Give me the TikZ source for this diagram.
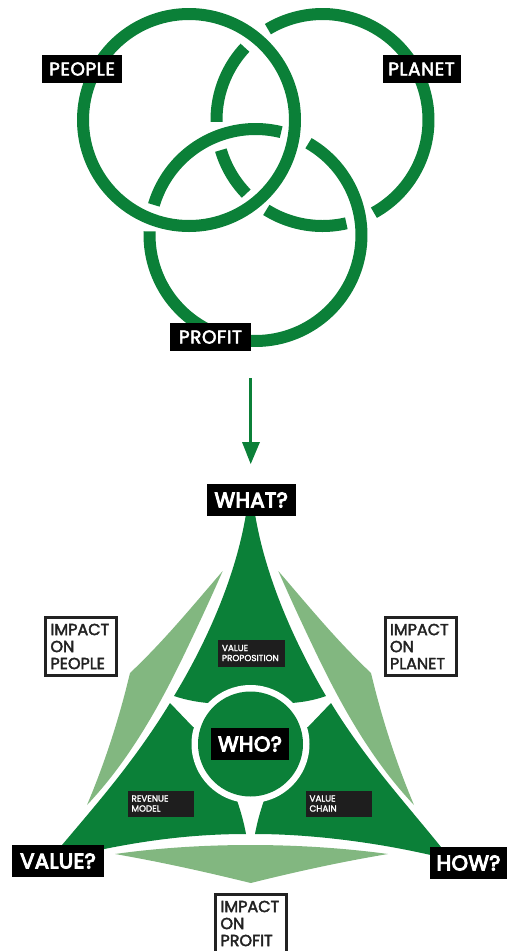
\documentclass[tikz,border=0pt]{standalone}
\usepackage{fontspec}
\setmainfont{Poppins}
\newfontface\tinyfont{Poppins}[FakeBold=2]
\newfontface\medfont{Poppins}[FakeBold=2.6]
\newfontface\spacedfont{Poppins}[FakeBold=3,LetterSpace=3]
\newfontface\heavyfont{Poppins}[FakeBold=5,LetterSpace=2]
\definecolor{brand}{HTML}{0B8038}
\definecolor{lightbrand}{HTML}{82B780}
\definecolor{softblack}{HTML}{1E1E1E}
\definecolor{framegrey}{HTML}{222222}
\newcommand{\ringarc}[4]{\draw[ring,domain=#3:#4,samples=90,variable=\t] plot ({#1+106*cos(\t)},{#2+106*sin(\t)});}
\tikzset{
  ring/.style={draw=brand,line width=12pt,line cap=butt,line join=round},
  pill/.style={fill=black,text=white,inner sep=0pt,font=\fontsize{18.5}{18.5}\selectfont\spacedfont,anchor=center},
  bigpill/.style={fill=black,text=white,inner sep=0pt,font=\fontsize{21}{21}\selectfont\heavyfont,anchor=center},
  tinybox/.style={fill=softblack,text=white,inner sep=0pt,minimum width=66.5pt,minimum height=26.5pt,text width=59pt,align=left,font=\fontsize{8.8}{10}\selectfont\tinyfont,anchor=center},
  impact/.style={draw=framegrey,line width=3pt,fill=white,text=framegrey,inner sep=0pt,minimum width=71pt,minimum height=58.5pt,text width=61pt,align=left,font=\fontsize{16}{17}\selectfont\medfont,anchor=center},
  solidg/.style={fill=brand,draw=none},
  softg/.style={fill=lightbrand,draw=none},
}
\begin{document}
\begin{tikzpicture}[x=1pt,y=-1pt]
\useasboundingbox (0,0) rectangle (510,951);
% rings
\draw[ring] (189,120) circle[radius=106];
\ringarc{322.5}{120}{-121}{61}
\ringarc{322.5}{120}{179}{223}
\ringarc{322.5}{120}{136}{163.5}
\ringarc{322.5}{120}{77}{122}
\ringarc{255.5}{235}{-60}{182}
\ringarc{255.5}{235}{196.5}{284}
\node[pill,minimum width=80pt,minimum height=28pt] (people) at (82,69) {PEOPLE};
\node[pill,minimum width=78pt,minimum height=28pt] (planet) at (421.5,69) {PLANET};
\node[pill,minimum width=81pt,minimum height=28pt] (profit) at (210.5,337) {PROFIT};
% arrow
\coordinate (arrowstart) at (250.7,378);
\coordinate (arrowneck) at (250.7,444);
\coordinate (arrowtip) at (250.7,464);
\draw[brand,line width=2.6pt] (arrowstart) -- (arrowneck);
\fill[brand] (arrowtip) -- (242,442) -- (260,442) -- cycle;
% soft petals
\fill[softg] (222.7,571) .. controls (195,603) and (165,640) .. (130,673)
  .. controls (120,715) and (106,760) .. (87,805)
  .. controls (125,765) and (155,715) .. (183,657)
  .. controls (196,630) and (210,600) .. cycle;
\fill[softg] (278.3,571) .. controls (306,603) and (336,640) .. (371,673)
  .. controls (381,715) and (395,760) .. (414,805)
  .. controls (376,765) and (346,715) .. (318,657)
  .. controls (305,630) and (291,600) .. cycle;
\fill[softg] (115,854) .. controls (200,842) and (300,842) .. (388,854)
  .. controls (340,862) and (295,872) .. (250.7,883)
  .. controls (206,872) and (161,862) .. cycle;
% solid petals
\fill[solidg] (246,514) .. controls (236,575) and (208,640) .. (174,696)
  .. controls (186,700) and (197,702) .. (208,703)
  -- (250.5,744) -- (292,703)
  .. controls (304,702) and (315,700) .. (326,696)
  .. controls (293,640) and (265,575) .. (255,514) -- cycle;
\fill[solidg] (170,703) -- (193,727) -- (250.5,744) -- (237,800.5)
  .. controls (241,812) and (244,823) .. (246,834)
  .. controls (195,834) and (145,840) .. (90,852)
  -- (50,860) -- (62,845)
  .. controls (100,800) and (135,760) .. cycle;
\fill[solidg] (331,703) -- (308,727) -- (250.5,744) -- (264,800.5)
  .. controls (260,812) and (257,823) .. (255,834)
  .. controls (310,834) and (375,842) .. (435,856)
  -- (450,856) -- (441,847)
  .. controls (403,800) and (366,760) .. cycle;
\fill[white] (250.5,744) circle[radius=59];
\fill[brand] (250.5,744) circle[radius=52.5];
% labels
\node[bigpill,minimum width=89pt,minimum height=32pt] (what) at (251.2,500) {WHAT?};
\node[bigpill,minimum width=78pt,minimum height=32pt] (who) at (250,744) {WHO?};
\node[bigpill,minimum width=91.5pt,minimum height=32pt] (value) at (58,861) {VALUE?};
\node[bigpill,minimum width=77pt,minimum height=32pt] (how) at (468.5,863) {HOW?};
\node[tinybox] (vp) at (251.5,653.5) {\raisebox{1pt}{VALUE}\\\raisebox{1pt}{PROPOSITION}};
\node[tinybox] (rm) at (161,804) {\raisebox{1pt}{REVENUE}\\\raisebox{1pt}{MODEL}};
\node[tinybox] (vc) at (339,804) {\raisebox{1pt}{VALUE}\\\raisebox{1pt}{CHAIN}};
\node[impact] (ipeople) at (81,646.5) {IMPACT\\ON\\PEOPLE};
\node[impact] (iplanet) at (420.5,646.5) {IMPACT\\ON\\PLANET};
\node[impact] (iprofit) at (251,923.5) {IMPACT\\ON\\PROFIT};
\end{tikzpicture}
\end{document}
